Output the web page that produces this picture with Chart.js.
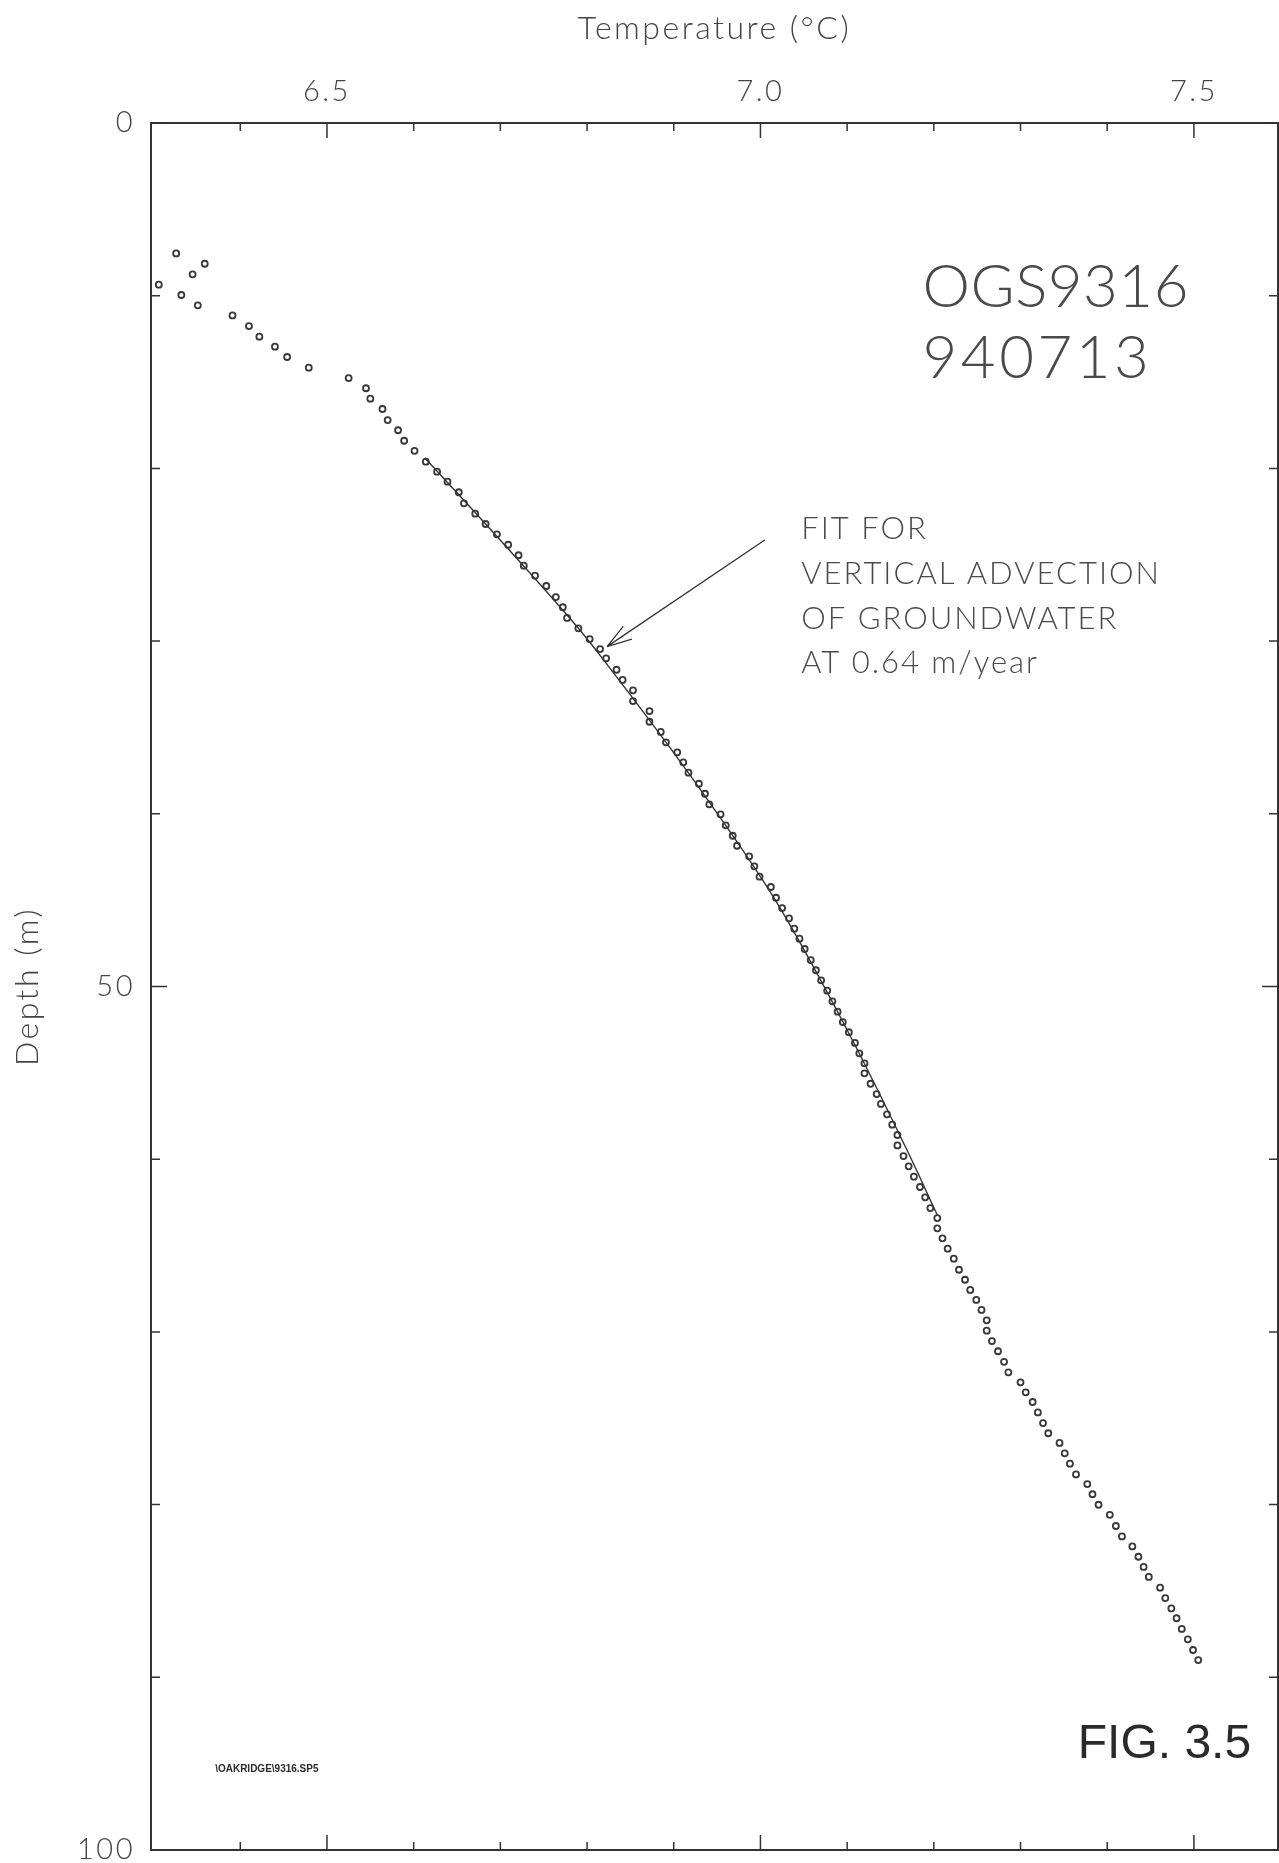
<!DOCTYPE html>
<html>
<head>
<meta charset="utf-8">
<title>OGS9316 temperature log</title>
<script src="https://cdn.jsdelivr.net/npm/chart.js@4.4.1/dist/chart.umd.min.js"></script>
<style>
    html, body { margin: 0; padding: 0; background: #fff; }
    #wrap { width: 1279px; height: 1863px; }
</style>
</head>
<body>
<div id="wrap"><canvas id="log-chart" width="1279" height="1863"></canvas></div>
<script>
// measured temperature log (depth in m, temperature in degC)
const depthM = [
    7.55, 8.15, 8.76, 9.36, 9.96, 10.56, 11.14, 11.76, 12.37, 12.95,
    13.55, 14.17, 14.77, 15.36, 15.96, 16.56, 17.20, 17.79, 18.40, 18.98,
    19.61, 20.19, 20.77, 21.38, 22.02, 22.62, 23.22, 23.82, 24.42, 25.03,
    25.63, 26.21, 26.81, 27.45, 28.04, 28.66, 29.26, 29.88, 30.46, 31.00,
    31.66, 32.25, 32.85, 33.47, 34.05, 34.67, 35.26, 35.86, 36.44, 37.02,
    37.62, 38.26, 38.84, 39.45, 40.03, 40.67, 41.27, 41.85, 42.46, 43.04,
    43.64, 44.24, 44.86, 45.46, 46.05, 46.65, 47.23, 47.83, 48.47, 49.06,
    49.64, 50.24, 50.86, 51.46, 52.06, 52.65, 53.27, 53.87, 54.45, 55.03,
    55.63, 56.23, 56.80, 57.40, 58.00, 58.60, 59.20, 59.82, 60.41, 61.01,
    61.61, 62.21, 62.83, 63.41, 64.00, 64.58, 65.18, 65.76, 66.40, 66.98,
    67.57, 68.15, 68.73, 69.33, 69.93, 70.53, 71.12, 71.73, 72.34, 72.92,
    73.50, 74.06, 74.66, 75.28, 75.87, 76.43, 77.03, 77.63, 78.25, 78.81,
    79.40, 80.01, 80.59, 81.24, 81.84, 82.42, 83.02, 83.61, 84.19, 84.81,
    85.41, 86.01, 86.58, 87.20, 87.80, 88.42, 89.00
];
const tempC = [
    6.326, 6.359, 6.345, 6.306, 6.332, 6.351, 6.391, 6.410, 6.422, 6.440,
    6.454, 6.479, 6.525, 6.545, 6.550, 6.564, 6.570, 6.582, 6.589, 6.601,
    6.614, 6.627, 6.639, 6.652, 6.658, 6.671, 6.683, 6.696, 6.709, 6.721,
    6.727, 6.740, 6.753, 6.764, 6.772, 6.777, 6.790, 6.803, 6.815, 6.822,
    6.834, 6.841, 6.853, 6.853, 6.872, 6.872, 6.885, 6.891, 6.904, 6.911,
    6.917, 6.929, 6.936, 6.941, 6.954, 6.960, 6.968, 6.973, 6.987, 6.993,
    6.999, 7.012, 7.018, 7.025, 7.033, 7.039, 7.045, 7.051, 7.058, 7.064,
    7.070, 7.077, 7.083, 7.089, 7.095, 7.102, 7.109, 7.114, 7.120, 7.120,
    7.127, 7.134, 7.139, 7.146, 7.152, 7.158, 7.158, 7.165, 7.171, 7.177,
    7.184, 7.190, 7.196, 7.204, 7.204, 7.210, 7.216, 7.223, 7.229, 7.236,
    7.242, 7.249, 7.255, 7.261, 7.261, 7.267, 7.274, 7.281, 7.286, 7.300,
    7.306, 7.314, 7.320, 7.326, 7.332, 7.345, 7.351, 7.357, 7.364, 7.377,
    7.383, 7.390, 7.403, 7.410, 7.417, 7.429, 7.436, 7.442, 7.448, 7.461,
    7.467, 7.474, 7.480, 7.486, 7.493, 7.499, 7.505
];

// advection fit curve (solid line)
const fitDepthM = [19.40, 23.22, 29.26, 31.09, 38.62, 44.99, 52.52, 59.47, 63.23];
const fitTempC = [6.613, 6.683, 6.790, 6.819, 6.931, 7.017, 7.100, 7.169, 7.204];

// axes
const tempTicks = [6.4, 6.5, 6.6, 6.7, 6.8, 6.9, 7.0, 7.1, 7.2, 7.3, 7.4, 7.5];
const tempMajor = [6.5, 7.0, 7.5];
const tempTickLabels = ['6.5', '7.0', '7.5'];
const depthTicks = [0, 10, 20, 30, 40, 50, 60, 70, 80, 90, 100];
const depthMajor = [0, 50, 100];
const depthTickLabels = ['0', '50', '100'];

// annotations
const wellId = ['OGS9316', '940713'];
const fitNote = ['FIT FOR', 'VERTICAL ADVECTION', 'OF GROUNDWATER', 'AT 0.64 m/year'];
const figLabel = 'FIG. 3.5';
const fileStamp = '\\OAKRIDGE\\9316.SP5';

const INK = '#333';
const FONT = "Lato, 'DejaVu Sans', sans-serif";

const majorIndex = (v, list) => list.findIndex(m => Math.abs(m - v) < 1e-6);

const framePlugin = {
    id: 'frameAndNotes',
    beforeDraw(chart) {
        // the plotter lettering is wide, so space the axis text out a bit
        chart.ctx.letterSpacing = '2.5px';
    },
    afterDraw(chart) {
        const { ctx, chartArea: a, scales: { x, y } } = chart;
        ctx.save();

        // box round the plot
        ctx.strokeStyle = INK;
        ctx.lineWidth = 2;
        ctx.strokeRect(a.left, a.top, a.right - a.left, a.bottom - a.top);

        // inward ticks on all four sides
        ctx.lineWidth = 1.5;
        ctx.beginPath();
        tempTicks.forEach(v => {
            const px = x.getPixelForValue(v);
            const len = majorIndex(v, tempMajor) >= 0 ? 15 : 8;
            ctx.moveTo(px, a.top); ctx.lineTo(px, a.top + len);
            ctx.moveTo(px, a.bottom); ctx.lineTo(px, a.bottom - len);
        });
        depthTicks.forEach(v => {
            const py = y.getPixelForValue(v);
            const len = majorIndex(v, depthMajor) >= 0 ? 16 : 9;
            ctx.moveTo(a.left, py); ctx.lineTo(a.left + len, py);
            ctx.moveTo(a.right, py); ctx.lineTo(a.right - len, py);
        });
        ctx.stroke();

        // arrow pointing at the fit
        const x0 = x.getPixelForValue(7.005), y0 = y.getPixelForValue(24.15);
        const x1 = x.getPixelForValue(6.823), y1 = y.getPixelForValue(30.32);
        const ang = Math.atan2(y0 - y1, x0 - x1);
        ctx.lineWidth = 1.3;
        ctx.beginPath();
        ctx.moveTo(x0, y0); ctx.lineTo(x1, y1);
        [-0.3, 0.3].forEach(d => {
            ctx.moveTo(x1, y1);
            ctx.lineTo(x1 + 26 * Math.cos(ang + d), y1 + 26 * Math.sin(ang + d));
        });
        ctx.stroke();

        // text
        ctx.fillStyle = '#4a4a4a';
        ctx.textAlign = 'left';
        ctx.textBaseline = 'alphabetic';
        ctx.font = '300 60px ' + FONT;
        ctx.letterSpacing = '0.5px';
        ctx.fillText(wellId[0], x.getPixelForValue(7.187), y.getPixelForValue(10.64));
        ctx.letterSpacing = '3.5px';
        ctx.fillText(wellId[1], x.getPixelForValue(7.187), y.getPixelForValue(14.77));

        ctx.font = '300 31px ' + FONT;
        ctx.letterSpacing = '2px';
        const noteDepth = [24.11, 26.70, 29.28, 31.86];
        fitNote.forEach((t, i) => {
            ctx.fillText(t, x.getPixelForValue(7.047), y.getPixelForValue(noteDepth[i]));
        });

        ctx.letterSpacing = '0px';
        ctx.fillStyle = '#2a2a2a';
        ctx.font = "48px 'Liberation Sans', Arial, sans-serif";
        ctx.fillText(figLabel, x.getPixelForValue(7.366), y.getPixelForValue(94.7));

        ctx.font = "bold 10px 'Liberation Sans Narrow', 'Liberation Sans', sans-serif";
        ctx.fillText(fileStamp, x.getPixelForValue(6.371), y.getPixelForValue(95.5));

        ctx.restore();
    }
};

const ctx = document.getElementById('log-chart').getContext('2d');
new Chart(ctx, {
    type: 'scatter',
    data: {
        datasets: [
            {
                label: 'Fit',
                data: fitTempC.map((t, i) => ({ x: t, y: fitDepthM[i] })),
                showLine: true,
                borderColor: INK,
                borderWidth: 1.4,
                pointRadius: 0,
                cubicInterpolationMode: 'monotone'
            },
            {
                label: 'Measured',
                data: tempC.map((t, i) => ({ x: t, y: depthM[i] })),
                showLine: false,
                pointStyle: 'circle',
                pointRadius: 3,
                borderWidth: 1.8,
                pointBorderColor: '#383838',
                pointBackgroundColor: 'rgba(255,255,255,0)'
            }
        ]
    },
    options: {
        responsive: false,
        animation: false,
        layout: { autoPadding: false, padding: { left: 0, top: 0, right: 1, bottom: 13 } },
        plugins: {
            legend: { display: false },
            tooltip: { enabled: false }
        },
        scales: {
            x: {
                type: 'linear',
                position: 'top',
                min: 6.297,
                max: 7.597,
                grid: { display: false, drawTicks: false },
                border: { display: false },
                afterBuildTicks: (s) => { s.ticks = tempTicks.map(v => ({ value: v })); },
                afterFit: (s) => { s.height = 123; s.paddingLeft = 0; s.paddingRight = 0; },
                ticks: {
                    autoSkip: false,
                    maxRotation: 0,
                    padding: 14,
                    color: '#444',
                    font: { family: FONT, size: 29, weight: 300 },
                    callback: (v) => {
                        const i = majorIndex(v, tempMajor);
                        return i >= 0 ? tempTickLabels[i] : '';
                    }
                },
                title: {
                    display: true,
                    text: 'Temperature (°C)',
                    color: '#444',
                    font: { family: FONT, size: 32, weight: 300 },
                    padding: { top: 9, bottom: 0 }
                }
            },
            y: {
                type: 'linear',
                reverse: true,
                min: 0,
                max: 100,
                grid: { display: false, drawTicks: false },
                border: { display: false },
                afterBuildTicks: (s) => { s.ticks = depthTicks.map(v => ({ value: v })); },
                afterFit: (s) => { s.width = 151; s.paddingTop = 0; s.paddingBottom = 0; },
                ticks: {
                    autoSkip: false,
                    padding: 16,
                    color: '#444',
                    font: { family: FONT, size: 29, weight: 300 },
                    callback: (v) => {
                        const i = majorIndex(v, depthMajor);
                        return i >= 0 ? depthTickLabels[i] : '';
                    }
                },
                title: {
                    display: true,
                    text: 'Depth (m)',
                    color: '#444',
                    font: { family: FONT, size: 32, weight: 300 },
                    padding: { top: 8, bottom: 0 }
                }
            }
        }
    },
    plugins: [framePlugin]
});
</script>
</body>
</html>
